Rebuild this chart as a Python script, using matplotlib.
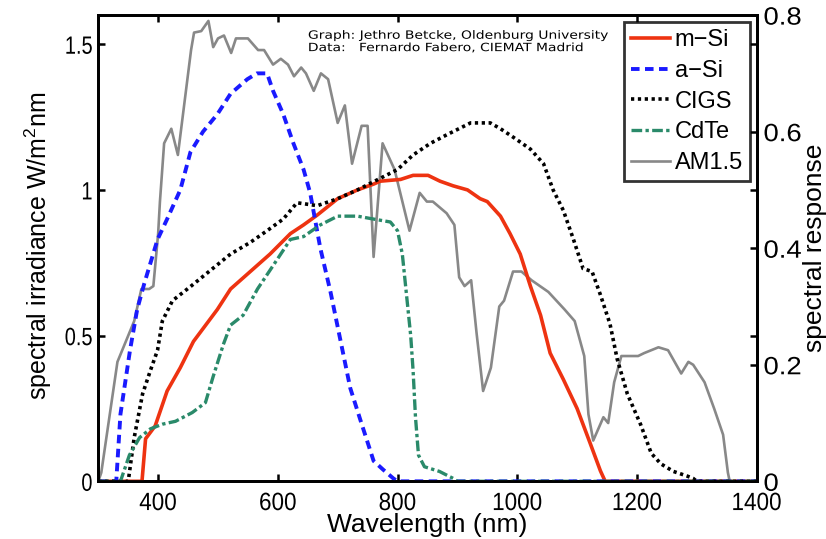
import numpy as np
import matplotlib
matplotlib.use("Agg")
import matplotlib.pyplot as plt
from matplotlib.patheffects import AbstractPathEffect
from matplotlib.transforms import Affine2D

# ---- data ----
am_wl = [300, 305, 332, 360, 372, 385, 392, 400, 403, 410, 422, 433, 455, 460, 472, 484, 492, 500,
         510, 522, 530, 550, 567, 577, 592, 605, 617, 627, 639, 647, 660, 672, 684, 700, 712, 724,
         740, 750, 760, 775, 795, 820, 837, 849, 859, 882, 895, 903, 912, 923, 932, 943, 956, 970,
         978, 993, 1007, 1024, 1052, 1079, 1096, 1112, 1119, 1127, 1144, 1152, 1162, 1174, 1190,
         1202, 1212, 1236, 1252, 1274, 1286, 1294, 1313, 1329, 1344, 1352, 1355, 1400]
am_val = [0.0, 0.03, 0.41, 0.55, 0.66, 0.66, 0.67, 0.85, 0.96, 1.16, 1.21, 1.12, 1.48, 1.54, 1.545,
          1.58, 1.49, 1.52, 1.53, 1.47, 1.52, 1.52, 1.48, 1.48, 1.43, 1.45, 1.43, 1.39, 1.42, 1.40,
          1.34, 1.40, 1.38, 1.23, 1.29, 1.09, 1.22, 1.22, 0.77, 1.16, 1.07, 0.86, 0.99, 0.96, 0.96,
          0.92, 0.88, 0.70, 0.67, 0.69, 0.51, 0.31, 0.39, 0.60, 0.62, 0.72, 0.72, 0.69, 0.65, 0.59,
          0.55, 0.43, 0.23, 0.14, 0.22, 0.20, 0.34, 0.43, 0.43, 0.43, 0.44, 0.46, 0.45, 0.37, 0.41,
          0.40, 0.34, 0.25, 0.16, 0.03, 0.0, 0.0]

msi_wl = [300, 373, 379, 395, 415, 437, 459, 499, 521, 554, 587, 621, 643, 666, 700, 733, 760, 771,
          805, 826, 851, 871, 893, 917, 938, 950, 972, 988, 1005, 1022, 1039, 1055, 1077, 1100,
          1122, 1139, 1147, 1400]
msi_val = [0.0, 0.0, 0.073, 0.095, 0.155, 0.195, 0.24, 0.295, 0.33, 0.36, 0.39, 0.425, 0.44, 0.457,
           0.485, 0.50, 0.51, 0.515, 0.518, 0.525, 0.525, 0.515, 0.507, 0.50, 0.485, 0.48, 0.455,
           0.425, 0.39, 0.335, 0.285, 0.22, 0.175, 0.125, 0.065, 0.018, 0.0, 0.0]

asi_wl = [300, 330, 337, 345, 353, 365, 377, 399, 415, 437, 454, 475, 499, 521, 549, 565, 582, 592,
          609, 626, 643, 654, 671, 688, 704, 721, 738, 749, 760, 776, 793, 800, 1400]
asi_val = [0.0, 0.0, 0.115, 0.17, 0.225, 0.295, 0.34, 0.415, 0.45, 0.50, 0.565, 0.60, 0.63, 0.665,
           0.69, 0.70, 0.70, 0.67, 0.63, 0.58, 0.535, 0.495, 0.40, 0.325, 0.245, 0.16, 0.105, 0.07,
           0.035, 0.02, 0.005, 0.0, 0.0]

cigs_wl = [300, 350, 360, 374, 387, 399, 407, 424, 455, 521, 554, 582, 609, 632, 666, 700, 733,
           800, 826, 855, 883, 922, 955, 972, 994, 1022, 1044, 1060, 1077, 1094, 1110, 1125, 1139,
           1155, 1167, 1184, 1206, 1224, 1240, 1261, 1284, 1294, 1300, 1400]
cigs_val = [0.0, 0.0, 0.075, 0.15, 0.19, 0.225, 0.275, 0.31, 0.335, 0.39, 0.41, 0.43, 0.45, 0.478,
            0.473, 0.485, 0.50, 0.535, 0.56, 0.58, 0.595, 0.615, 0.615, 0.605, 0.59, 0.57, 0.545,
            0.50, 0.465, 0.415, 0.365, 0.36, 0.32, 0.27, 0.21, 0.15, 0.098, 0.048, 0.03, 0.017,
            0.009, 0.005, 0.0, 0.0]

cdte_wl = [300, 337, 352, 369, 387, 407, 429, 457, 479, 492, 509, 521, 542, 566, 592, 621, 643,
           671, 700, 733, 760, 788, 800, 808, 815, 822, 826, 830, 835, 845, 870, 893, 900, 1400]
cdte_val = [0.0, 0.0, 0.045, 0.075, 0.09, 0.098, 0.103, 0.118, 0.135, 0.18, 0.235, 0.268, 0.285,
            0.33, 0.37, 0.415, 0.42, 0.44, 0.455, 0.455, 0.45, 0.445, 0.43, 0.39, 0.32, 0.25,
            0.19, 0.11, 0.045, 0.025, 0.017, 0.005, 0.0, 0.0]

labels = ["m\u2212Si", "a\u2212Si", "CIGS", "CdTe", "AM1.5"]
xticks = [400, 600, 800, 1000, 1200, 1400]
yticks_left = [0, 0.5, 1, 1.5]
yticks_right = [0, 0.2, 0.4, 0.6, 0.8]


class Stretch(AbstractPathEffect):
    """Scale glyph outlines about an anchor (text stays a Text object)."""
    def __init__(self, sx=1.0, sy=1.0, ha='center', va='center'):
        super().__init__()
        self.sx, self.sy, self.ha, self.va = sx, sy, ha, va

    def draw_path(self, renderer, gc, tpath, affine, rgbFace=None):
        ext = tpath.get_extents()
        if not np.all(np.isfinite([ext.x0, ext.x1, ext.y0, ext.y1])):
            renderer.draw_path(gc, tpath, affine, rgbFace)
            return
        ax_ = {'left': ext.x0, 'right': ext.x1, 'center': 0.5 * (ext.x0 + ext.x1)}[self.ha]
        ay_ = {'bottom': ext.y0, 'top': ext.y1, 'center': 0.5 * (ext.y0 + ext.y1)}[self.va]
        t = Affine2D().translate(-ax_, -ay_).scale(self.sx, self.sy).translate(ax_, ay_) + affine
        renderer.draw_path(gc, tpath, t, rgbFace)


plt.rcParams['font.family'] = ['Liberation Sans', 'DejaVu Sans']
plt.rcParams['mathtext.fontset'] = 'custom'
plt.rcParams['mathtext.rm'] = 'Liberation Sans'
plt.rcParams['mathtext.it'] = 'Liberation Sans'

fig = plt.figure(figsize=(8.26, 5.39), dpi=100)
ax = fig.add_axes([0.119, 0.107, 0.797, 0.865])
ax2 = ax.twinx()

c_red = '#ee3311'
c_blue = '#1a1aff'
c_green = '#2a8a6a'
c_gray = '#888888'

l_am, = ax.plot(am_wl, am_val, color=c_gray, lw=1.9, zorder=2)
l_m, = ax2.plot(msi_wl, msi_val, color=c_red, lw=2.6, solid_joinstyle='round')
l_a, = ax2.plot(asi_wl, asi_val, color=c_blue, lw=2.8, linestyle=(0, (2.2, 1.4)))
l_c, = ax2.plot(cigs_wl, cigs_val, color='black', lw=2.6, linestyle=(0, (0.9, 1.0)))
l_d, = ax2.plot(cdte_wl, cdte_val, color=c_green, lw=2.4, linestyle=(0, (3.2, 1.0, 1.0, 1.0)))

ax.set_xlim(300, 1400)
ax.set_ylim(0, 1.6)
ax2.set_ylim(0, 0.8)

tick_fs = 18
ax.set_xticks(xticks)
ax.set_xticklabels([str(t) for t in xticks], fontsize=tick_fs,
                   path_effects=[Stretch(0.9, 1.0, 'center', 'center')])
ax.set_yticks(yticks_left)
ax.set_yticklabels(['0', '0.5', '1', '1.5'], fontsize=tick_fs,
                   path_effects=[Stretch(0.8, 1.0, 'right', 'center')])
ax2.set_yticks(yticks_right)
ax2.set_yticklabels(['0', '0.2', '0.4', '0.6', '0.8'], fontsize=tick_fs,
                    path_effects=[Stretch(1.1, 1.0, 'left', 'center')])

for a in (ax, ax2):
    for s in a.spines.values():
        s.set_linewidth(2.0)
ax.tick_params(axis='both', direction='in', length=5, width=1.8, top=True, right=True, pad=4)
ax.tick_params(axis='x', pad=7)
ax2.tick_params(axis='y', direction='in', length=5, width=1.8, pad=5)

ax.set_xlabel('Wavelength (nm)', fontsize=19)
ax.xaxis.set_label_coords(0.5, -0.069)
ax.set_ylabel('spectral irradiance W/m$^2$nm', fontsize=18)
ax.yaxis.set_label_coords(-0.068, 0.505)
ax2.set_ylabel('spectral response', fontsize=19)
ax2.yaxis.set_label_coords(1.070, 0.5)

note = fig.text(0.373, 0.943, 'Graph: Jethro Betcke, Oldenburg University\nData:   Fernardo Fabero, CIEMAT Madrid',
                fontsize=8.2, family='DejaVu Sans', va='top', ha='left', linespacing=1.3)
note.set_path_effects([Stretch(1.22, 1.0, 'left', 'center')])

leg = ax2.legend([l_m, l_a, l_c, l_d, l_am], labels, loc='upper right',
                 bbox_to_anchor=(0.99, 0.985), frameon=True, fancybox=False,
                 handlelength=1.65, handletextpad=0.2, borderpad=0.3, labelspacing=0.37,
                 borderaxespad=0.0, prop={'family': ['Liberation Sans', 'DejaVu Sans'], 'size': 17})
leg.get_frame().set_edgecolor('black')
leg.get_frame().set_linewidth(2.0)

fig.savefig('out.png', dpi=100)
